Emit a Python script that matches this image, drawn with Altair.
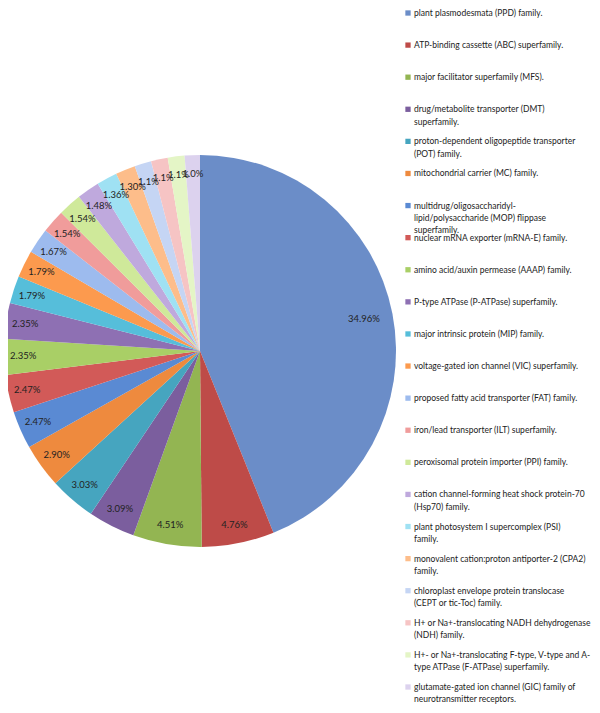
import altair as alt
import pandas as pd

codes = ["PPD", "ABC", "MFS", "DMT", "POT", "MC", "MOP", "mRNA-E", "AAAP", "P-ATPase",
         "MIP", "VIC", "FAT", "ILT", "PPI", "Hsp70", "PSI", "CPA2", "CEPT", "NDH",
         "F-ATPase", "GIC"]

legend_labels = [
    "plant plasmodesmata (PPD) family.",
    "ATP-binding cassette (ABC) superfamily.",
    "major facilitator superfamily (MFS).",
    "drug/metabolite transporter (DMT)\nsuperfamily.",
    "proton-dependent oligopeptide transporter\n(POT) family.",
    "mitochondrial carrier (MC) family.",
    "multidrug/oligosaccharidyl-\nlipid/polysaccharide (MOP) flippase\nsuperfamily.",
    "nuclear mRNA exporter (mRNA-E) family.",
    "amino acid/auxin permease (AAAP) family.",
    "P-type ATPase (P-ATPase) superfamily.",
    "major intrinsic protein (MIP) family.",
    "voltage-gated ion channel (VIC) superfamily.",
    "proposed fatty acid transporter (FAT) family.",
    "iron/lead transporter (ILT) superfamily.",
    "peroxisomal protein importer (PPI) family.",
    "cation channel-forming heat shock protein-70\n(Hsp70) family.",
    "plant photosystem I supercomplex (PSI)\nfamily.",
    "monovalent cation:proton antiporter-2 (CPA2)\nfamily.",
    "chloroplast envelope protein translocase\n(CEPT or tic-Toc) family.",
    "H+ or Na+-translocating NADH dehydrogenase\n(NDH) family.",
    "H+- or Na+-translocating F-type, V-type and A-\ntype ATPase (F-ATPase) superfamily.",
    "glutamate-gated ion channel (GIC) family of\nneurotransmitter receptors.",
]

values = [34.96, 4.76, 4.51, 3.09, 3.03, 2.90, 2.47, 2.47, 2.35, 2.35, 1.79, 1.79,
          1.67, 1.54, 1.54, 1.48, 1.36, 1.30, 1.1, 1.1, 1.1, 1.0]

pct_labels = ["34.96%", "4.76%", "4.51%", "3.09%", "3.03%", "2.90%", "2.47%", "2.47%",
              "2.35%", "2.35%", "1.79%", "1.79%", "1.67%", "1.54%", "1.54%", "1.48%",
              "1.36%", "1.30%", "1.1%", "1.1%", "1.1%", "1.0%"]

colors = ["#6B8DC8", "#BE4B48", "#93B552", "#7B5E9E", "#46A5BF", "#EE8A3E",
          "#5A8AD3", "#D25A58", "#A9CF66", "#8E70B3", "#56BEDA", "#FC9A4E",
          "#9DBBEE", "#F09C9B", "#CFE99A", "#BFA9DD", "#9FE1F3", "#FDBD8A",
          "#C5D5F4", "#F6C4C4", "#E4F5C6", "#DCD2EE"]

df = pd.DataFrame({
    "idx": list(range(len(codes))),
    "code": codes,
    "legend": legend_labels,
    "value": values,
    "pct": pct_labels,
})

color = alt.Color("code:N", scale=alt.Scale(domain=codes, range=colors), legend=None)
theta = alt.Theta("value:Q", stack=True)
order = alt.Order("idx:Q", sort="ascending")
cx, cy, R = 192, 343, 196

base = alt.Chart(df)

arcs = base.mark_arc(outerRadius=R).encode(
    theta=theta, order=order, color=color,
    x=alt.value(cx), y=alt.value(cy),
)

big_label = base.mark_text(radius=167, fontSize=9.5, font="Lato", color="#222222").encode(
    theta=theta, order=order,
    x=alt.value(cx), y=alt.value(cy),
    text=alt.condition("datum.value > 10", alt.Text("pct:N"), alt.value("")),
)

small_labels = base.mark_text(radius=177, fontSize=9.5, font="Lato", color="#222222").encode(
    theta=theta, order=order,
    x=alt.value(cx), y=alt.value(cy),
    text=alt.condition("datum.value > 10", alt.value(""), alt.Text("pct:N")),
)

ypos = alt.Y("idx:O", axis=None,
             scale=alt.Scale(type="point", range=[5, 679], padding=0))

leg_sq = base.mark_square(size=28, opacity=1).encode(
    x=alt.value(400), y=ypos, color=color,
)

leg_txt = base.mark_text(align="left", baseline="middle", lineBreak="\n",
                         fontSize=8.5, font="Lato", lineHeight=12.3,
                         color="#222222").encode(
    x=alt.value(406), y=ypos, text="legend:N",
)

chart = alt.layer(arcs, big_label, small_labels, leg_sq, leg_txt).properties(
    width=584, height=697, padding=0,
    autosize=alt.AutoSizeParams(type="none"),
).configure_view(strokeWidth=0)

chart.save("out.html", embed_options={"renderer": "svg", "actions": False})
